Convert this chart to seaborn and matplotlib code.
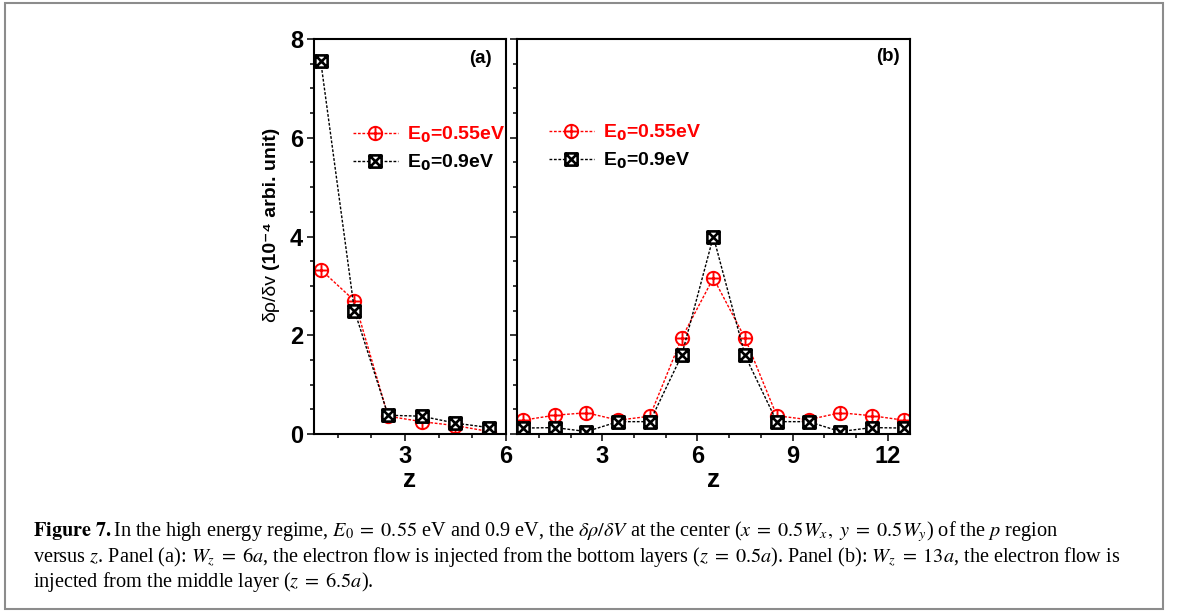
import matplotlib
matplotlib.use("Agg")
import matplotlib.pyplot as plt
import seaborn as sns
from matplotlib.path import Path
from matplotlib.lines import Line2D
from matplotlib.patches import Rectangle
from matplotlib.ticker import MultipleLocator

# ---- data -------------------------------------------------------------
z_a = [0.5, 1.5, 2.5, 3.5, 4.5, 5.5]
rho_a_055 = [3.33, 2.70, 0.36, 0.25, 0.17, 0.05]
rho_a_09 = [7.55, 2.50, 0.38, 0.36, 0.22, 0.13]

z_b = [0.5, 1.5, 2.5, 3.5, 4.5, 5.5, 6.5, 7.5, 8.5, 9.5, 10.5, 11.5, 12.5]
rho_b_055 = [0.28, 0.38, 0.43, 0.28, 0.36, 1.94, 3.16, 1.94, 0.37, 0.29, 0.43, 0.37, 0.28]
rho_b_09 = [0.12, 0.13, 0.05, 0.25, 0.25, 1.59, 4.00, 1.59, 0.25, 0.25, 0.05, 0.13, 0.12]

series_labels = [r"E$_\mathbf{0}$=0.55eV", r"E$_\mathbf{0}$=0.9eV"]
panel_labels = ["(a)", "(b)"]
yticks = [0, 2, 4, 6, 8]
xticks_a = [3, 6]
xticks_b = [3, 6, 9, 12]

caption_lines = [
    r"$\mathbf{Figure\ 7.}$In the high energy regime, $E_0\;=\;0.55$ eV and 0.9 eV, the "
    r"$\delta\rho/\delta V$ at the center ($x\;=\;0.5W_x,\ y\;=\;0.5W_y$) of the $p$ region",
    r"versus $z$. Panel (a): $W_z\;=\;6a$, the electron flow is injected from the bottom layers "
    r"($z\;=\;0.5a$). Panel (b): $W_z\;=\;13a$, the electron flow is",
    r"injected from the middle layer ($z\;=\;6.5a$).",
]

# ---- style --------------------------------------------------------------
sns.set_style("ticks")
plt.rcParams["font.family"] = ["Liberation Sans", "DejaVu Sans"]
plt.rcParams["axes.linewidth"] = 1.5
for key in ["text.color", "axes.labelcolor", "axes.edgecolor", "xtick.color", "ytick.color"]:
    plt.rcParams[key] = "black"

RED = "#ff0000"
BLACK = "#000000"
colors = [RED, BLACK]

# open circle with a plus inside, and open square with a cross inside
circle_plus = Path.make_compound_path(
    Path.unit_circle(),
    Path([(-1, 0), (1, 0), (0, -1), (0, 1)],
         [Path.MOVETO, Path.LINETO, Path.MOVETO, Path.LINETO]),
)
square_x = Path.make_compound_path(
    Path([(-1, -1), (1, -1), (1, 1), (-1, 1), (-1, -1)],
         [Path.MOVETO, Path.LINETO, Path.LINETO, Path.LINETO, Path.CLOSEPOLY]),
    Path([(-1, -1), (1, 1), (-1, 1), (1, -1)],
         [Path.MOVETO, Path.LINETO, Path.MOVETO, Path.LINETO]),
)
markers = [circle_plus, square_x]
msizes = [9.6, 8.8]
mews = [1.4, 1.9]
dash = (0, (2.0, 1.2))

W, H = 1179, 612
fig = plt.figure(figsize=(W / 100, H / 100), dpi=100)


def px_axes(left, top, right, bottom):
    return fig.add_axes([left / W, 1 - bottom / H, (right - left) / W, (bottom - top) / H])


ax_a = px_axes(314, 39, 506, 434)
ax_b = px_axes(516.7, 39, 910, 434)


def draw_series(ax, z, values, i):
    sns.lineplot(x=z, y=values, ax=ax, color=colors[i], lw=1.0, linestyle=dash,
                 marker=markers[i], markersize=msizes[i], mfc="white",
                 mec=colors[i], mew=mews[i], legend=False)


draw_series(ax_a, z_a, rho_a_055, 0)
draw_series(ax_a, z_a, rho_a_09, 1)
draw_series(ax_b, z_b, rho_b_055, 0)
draw_series(ax_b, z_b, rho_b_09, 1)

for ax, xt, xlim in [(ax_a, xticks_a, (0.3, 6.0)), (ax_b, xticks_b, (0.3, 12.7))]:
    ax.set_xlim(*xlim)
    ax.set_ylim(0, 8)
    ax.set_xticks(xt, labels=[str(v) for v in xt], fontweight="bold")
    ax.set_yticks(yticks, labels=[str(v) for v in yticks], fontweight="bold")
    ax.xaxis.set_minor_locator(MultipleLocator(1))
    ax.yaxis.set_minor_locator(MultipleLocator(0.5))
    ax.tick_params(which="both", direction="out", top=False, right=False, width=1.1,
                   labelsize=17, pad=3)
    ax.tick_params(which="major", length=5)
    ax.tick_params(which="minor", length=3)
    for s in ax.spines.values():
        s.set_visible(True)
        s.set_linewidth(1.5)
    ax.set_xlabel("z", fontsize=19, fontweight="bold", labelpad=0)
    ax.set_ylabel("")

ax_b.tick_params(labelleft=False)

# panel tags
ax_a.text(0.865, 0.95, panel_labels[0], transform=ax_a.transAxes, ha="center", va="center",
          fontsize=13.5, fontweight="bold")
ax_b.text(0.943, 0.955, panel_labels[1], transform=ax_b.transAxes, ha="center", va="center",
          fontsize=13.5, fontweight="bold")

# y label: plain symbol part followed by bold units
t1 = fig.text(271 / W, 1 - 322 / H, "δρ/δv", rotation=90, ha="center", va="bottom",
              fontsize=14, fontweight="normal")
ax_a.annotate("(10⁻⁴ arbi. unit)", xy=(0.5, 1.0), xycoords=t1,
              xytext=(0, 3), textcoords="offset points", rotation=90,
              ha="center", va="bottom", fontsize=14, fontweight="bold")

# legends
handles = [Line2D([], [], color=colors[i], lw=1.0, linestyle=dash, marker=markers[i],
                  markersize=msizes[i], mfc="white", mec=colors[i], mew=mews[i])
           for i in range(2)]
for ax, x0, y0 in [(ax_a, 353, 125), (ax_b, 549, 123)]:
    ax.legend(handles, series_labels, loc="upper left", bbox_to_anchor=(x0 / W, 1 - y0 / H),
              bbox_transform=fig.transFigure, frameon=False, borderpad=0, borderaxespad=0,
              handlelength=2.3, handletextpad=0.5, labelspacing=0.38,
              prop=dict(weight="bold", size=14), labelcolor=colors)

# caption
for k, line in enumerate(caption_lines):
    fig.text(33 / W, 1 - (536.5 + 25.5 * k) / H, line, ha="left", va="baseline",
             fontsize=14.6, fontweight="normal", family="Liberation Serif",
             math_fontfamily="stix")

# frame around figure and caption
fig.add_artist(Rectangle((5 / W, 1 - 609 / H), (1163 - 5) / W, (609 - 3) / H,
                         transform=fig.transFigure, fill=False, edgecolor="#8c8c8c", lw=1.5))

fig.savefig("out.png", dpi=100)
